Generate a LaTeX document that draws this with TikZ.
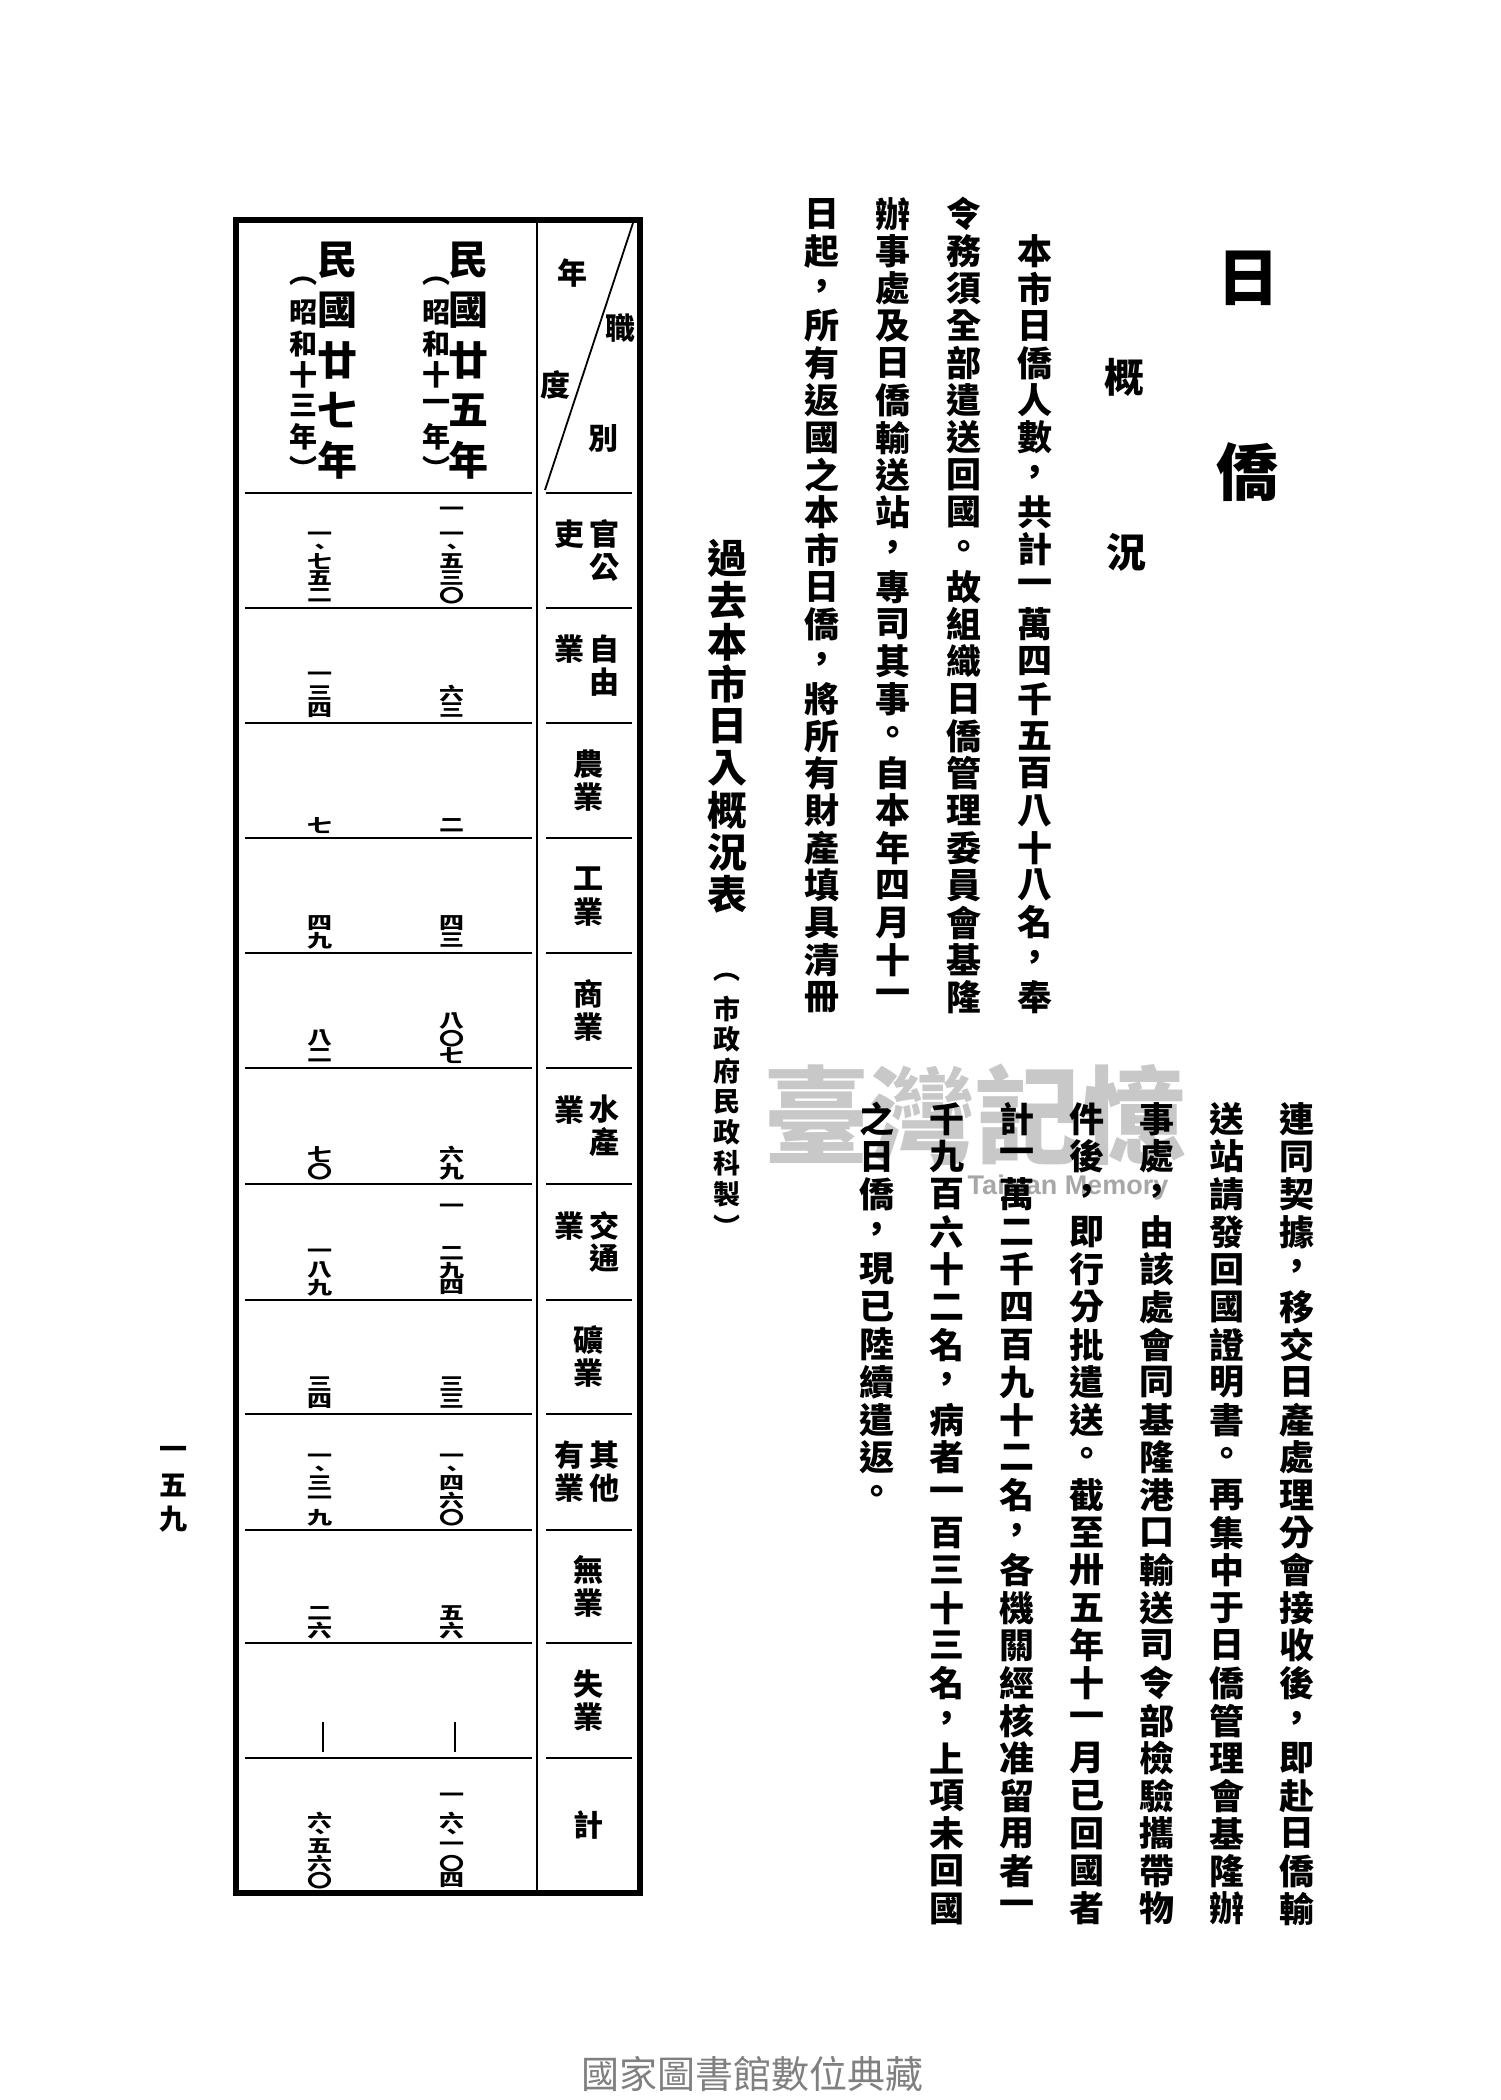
\documentclass[tikz,border=0pt]{standalone}
\usepackage{fontspec}
\usepackage{graphicx}
\newfontfamily\cjk{Noto Sans CJK TC}
\newfontfamily\latn{Liberation Sans}
\newcommand\cjkbf{\cjk\bfseries}
\makeatletter
\newlength\vp@tch
\newcommand\vcol[2]{\setlength\vp@tch{#1}\vbox{\offinterlineskip\vc@l#2\@nil}}
\def\vc@l#1{\ifx#1\@nil\else\hbox to 1.2em{\hss\vbox to\vp@tch{\vss\hbox{#1}\vss}\hss}\expandafter\vc@l\fi}
\newcommand\vnum[1]{\setlength\vp@tch{17pt}\vbox{\offinterlineskip\vn@m#1\@nil}}
\def\vn@m#1{\ifx#1\@nil\else\vn@box{#1}\expandafter\vn@m\fi}
\def\vn@box#1{\ifx#1、\vn@mk{0.5\vp@tch}{#1}\else\vn@mk{\vp@tch}{#1}\fi}
\def\vn@mk#1#2{\hbox to 1.2em{\hss\vbox to #1{\vss\hbox{\scalebox{1}[0.72]{#2}}\vss}\hss}}
\makeatother
\begin{document}
\begin{tikzpicture}[x=1pt,y=-1pt,
  titletext/.style={inner sep=0,font=\cjkbf\fontsize{62}{62}\selectfont},
  subhead/.style={inner sep=0,font=\cjkbf\fontsize{40}{40}\selectfont},
  body/.style={inner sep=0,anchor=north,font=\cjkbf\fontsize{35}{35}\selectfont},
  captext/.style={inner sep=0,anchor=north,font=\cjkbf\fontsize{40}{40}\selectfont},
  capsmall/.style={inner sep=0,anchor=north,font=\cjkbf\fontsize{27}{27}\selectfont},
  yearmain/.style={inner sep=0,anchor=north,font=\cjkbf\fontsize{40}{40}\selectfont},
  yearsub/.style={inner sep=0,anchor=north,font=\cjkbf\fontsize{28}{28}\selectfont},
  cat/.style={inner sep=0,font=\cjkbf\fontsize{30}{30}\selectfont},
  num/.style={inner sep=0,anchor=south,font=\cjkbf\fontsize{25}{25}\selectfont},
  lone/.style={inner sep=0,font=\cjkbf\fontsize{25}{25}\selectfont},
  border/.style={line width=6.5pt},
  rule/.style={line width=2.5pt}]
\useasboundingbox (0,0) rectangle (1500,2100);
\fill[white] (0,0) rectangle (1500,2100);

% headings
\node[titletext] (t1) at (1248,278) {日};
\node[titletext] (t2) at (1247,472) {僑};
\node[subhead] (s1) at (1124,377) {概};
\node[subhead] (s2) at (1126,552) {況};

% upper paragraph
\node[body] (p1) at (1035,232.3) {\vcol{37.3pt}{本市日僑人數，共計一萬四千五百八十八名，奉}};
\node[body] (p2) at (964,195) {\vcol{37.3pt}{令務須全部遣送回國。故組織日僑管理委員會基隆}};
\node[body] (p3) at (893,195) {\vcol{37.3pt}{辦事處及日僑輸送站，專司其事。自本年四月十一}};
\node[body] (p4) at (822,195) {\vcol{37.3pt}{日起，所有返國之本市日僑，將所有財產填具清冊}};

% watermark
\node[font=\cjkbf\fontsize{106}{106}\selectfont,text=black!30,opacity=0.7] (wm) at (975,1115) {臺灣記憶};
\node[font=\latn\bfseries\fontsize{27}{27}\selectfont,text=black!38,opacity=0.9] (wm2) at (1068,1188) {Taiwan Memory};

% lower paragraph
\node[body] (q1) at (1297,1100) {\vcol{37.6pt}{連同契據，移交日產處理分會接收後，即赴日僑輸}};
\node[body] (q2) at (1227,1100) {\vcol{37.6pt}{送站請發回國證明書。再集中于日僑管理會基隆辦}};
\node[body] (q3) at (1157,1100) {\vcol{37.6pt}{事處，由該處會同基隆港口輸送司令部檢驗攜帶物}};
\node[body] (q4) at (1087,1100) {\vcol{37.6pt}{件後，即行分批遣送。截至卅五年十一月已回國者}};
\node[body] (q5) at (1017,1100) {\vcol{37.6pt}{計一萬二千四百九十二名，各機關經核准留用者一}};
\node[body] (q6) at (947,1100) {\vcol{37.6pt}{千九百六十二名，病者一百三十三名，上項未回國}};
\node[body] (q7) at (877,1100) {\vcol{37.6pt}{之日僑，現已陸續遣返。}};

% table caption
\node[captext] (c1) at (727,537) {\vcol{42pt}{過去本市日入概況表}};
\node[capsmall] (c2) at (727,962) {\vcol{31pt}{︵市政府民政科製︶}};

% page number
\node[inner sep=0,anchor=north,font=\cjkbf\fontsize{28}{28}\selectfont] (pg) at (173,1436) {\vcol{33pt}{一五九}};

% footer
\node[font=\cjk\fontsize{38}{38}\selectfont,text=black!50] (foot) at (752,2074) {國家圖書館數位典藏};

% table frame
\draw[border] (233,220) -- (643,220);
\draw[border] (236,217) -- (236,1896);
\draw[border] (640,217) -- (640,1896);
\draw[border] (233,1893) -- (643,1893);
\draw[rule] (537,220) -- (537,1893);
\foreach \yy in {493,608,723,838,953,1068,1184,1300,1414,1530,1643,1758}{
  \draw[rule] (245,\yy) -- (532,\yy);
  \draw[rule] (546,\yy) -- (632,\yy);
}
\draw[line width=1.8pt] (633,223) -- (545,490);

% header cell
\node[cat] (h1) at (572,273) {年};
\node[cat] (h2) at (555,385) {度};
\node[cat] (h3) at (620,328) {職};
\node[cat] (h4) at (603,438) {別};

% year headers
\node[yearmain] (y1) at (468,235) {\vcol{50pt}{民國廿五年}};
\node[yearsub] (y1s) at (436,266) {\vcol{31pt}{︵昭和十一年︶}};
\node[yearmain] (y2) at (337,235) {\vcol{50pt}{民國廿七年}};
\node[yearsub] (y2s) at (303,266) {\vcol{31pt}{︵昭和十三年︶}};

% categories
\node[cat] (k1a) at (604,550.5) {\vcol{33pt}{官公}};
\node[cat,anchor=north] (k1b) at (569,517.5) {\vcol{33pt}{吏}};
\node[cat] (k2a) at (604,665.5) {\vcol{33pt}{自由}};
\node[cat,anchor=north] (k2b) at (569,632.5) {\vcol{33pt}{業}};
\node[cat] (k3) at (588,780.5) {\vcol{33pt}{農業}};
\node[cat] (k4) at (588,895.5) {\vcol{33pt}{工業}};
\node[cat] (k5) at (588,1010.5) {\vcol{33pt}{商業}};
\node[cat] (k6a) at (604,1126) {\vcol{33pt}{水產}};
\node[cat,anchor=north] (k6b) at (569,1093) {\vcol{33pt}{業}};
\node[cat] (k7a) at (604,1242) {\vcol{33pt}{交通}};
\node[cat,anchor=north] (k7b) at (569,1209) {\vcol{33pt}{業}};
\node[cat] (k8) at (588,1357) {\vcol{33pt}{礦業}};
\node[cat] (k9a) at (604,1472) {\vcol{33pt}{其他}};
\node[cat] (k9b) at (569,1472) {\vcol{33pt}{有業}};
\node[cat] (k10) at (588,1586.5) {\vcol{33pt}{無業}};
\node[cat] (k11) at (588,1700.5) {\vcol{33pt}{失業}};
\node[cat] (k12) at (588,1825.5) {\vcol{33pt}{計}};

% data: 民國廿五年 (x=452)
\node[lone] (a0) at (452,511) {\scalebox{1}[0.72]{一}};
\node[num] (a1) at (452,604) {\vnum{一、五三〇}};
\node[num] (a2) at (452,719) {\vnum{六三}};
\node[num] (a3) at (452,834) {\vnum{二}};
\node[num] (a4) at (452,949) {\vnum{四三}};
\node[num] (a5) at (452,1064) {\vnum{八〇七}};
\node[num] (a6) at (452,1180) {\vnum{六九}};
\node[lone] (a7t) at (452,1208) {\scalebox{1}[0.72]{一}};
\node[num] (a7) at (452,1296) {\vnum{二九四}};
\node[num] (a8) at (452,1410) {\vnum{三三}};
\node[num] (a9) at (452,1526) {\vnum{一、四六〇}};
\node[num] (a10) at (452,1639) {\vnum{五六}};
\node[lone] (a12t) at (452,1797) {\scalebox{1}[0.72]{一}};
\node[num] (a12) at (452,1889) {\vnum{六、一〇四}};
% data: 民國廿七年 (x=320)
\node[num] (b1) at (320,604) {\vnum{一、七五二}};
\node[num] (b2) at (320,719) {\vnum{一三四}};
\node[num] (b3) at (320,834) {\vnum{七}};
\node[num] (b4) at (320,949) {\vnum{四九}};
\node[num] (b5) at (320,1064) {\vnum{八二}};
\node[num] (b6) at (320,1180) {\vnum{七〇}};
\node[num] (b7) at (320,1296) {\vnum{一八九}};
\node[num] (b8) at (320,1410) {\vnum{三四}};
\node[num] (b9) at (320,1526) {\vnum{一、三一九}};
\node[num] (b10) at (320,1639) {\vnum{二六}};
\node[num] (b12) at (320,1889) {\vnum{六、五六〇}};
% 失業 dashes
\coordinate (d1t) at (455,1722); \coordinate (d1b) at (455,1752);
\coordinate (d2t) at (323,1722); \coordinate (d2b) at (323,1752);
\draw[line width=2.5pt] (d1t) -- (d1b);
\draw[line width=2.5pt] (d2t) -- (d2b);
\end{tikzpicture}
\end{document}
